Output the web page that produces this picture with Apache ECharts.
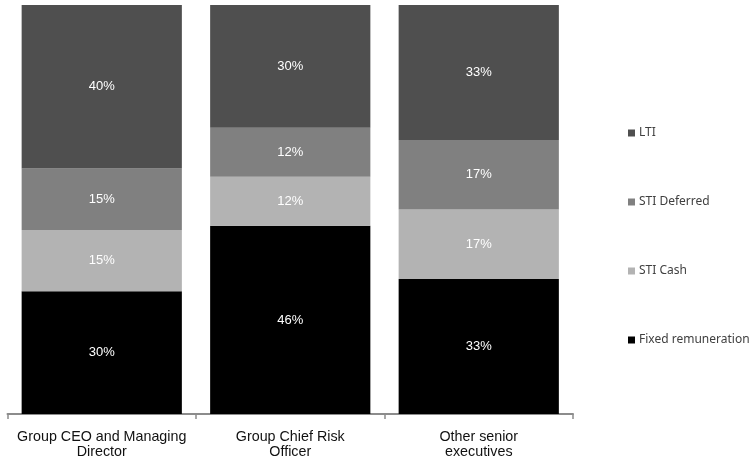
<!DOCTYPE html>
<html><head><meta charset="utf-8">
<script src="https://cdn.jsdelivr.net/npm/echarts@6/dist/echarts.min.js"></script>
<style>html,body{margin:0;padding:0;background:#fff}#c{width:749px;height:461px}</style>
</head><body><div id="c"></div>
<script>
const categories = ["Group CEO and Managing\nDirector", "Group Chief Risk\nOfficer", "Other senior\nexecutives"];
const fixedRem = [30, 46, 33];
const stiCash = [15, 12, 17];
const stiDeferred = [15, 12, 17];
const lti = [40, 30, 33];
const seriesNames = ["Fixed remuneration", "STI Cash", "STI Deferred", "LTI"];
const colors = ["#000000", "#b3b3b3", "#808080", "#4f4f4f"];
const legendOrder = ["LTI", "STI Deferred", "STI Cash", "Fixed remuneration"];

const font = "'Liberation Sans', Arial, sans-serif";
const values = [fixedRem, stiCash, stiDeferred, lti];
const chart = echarts.init(document.getElementById('c'));
chart.setOption({
  animation: false,
  grid: { left: 7.5, right: 176, top: 5, bottom: 47, containLabel: false },
  legend: {
    orient: 'vertical', left: 623, top: 122, itemWidth: 7, itemHeight: 7, itemGap: 57,
    icon: 'rect', data: legendOrder,
    textStyle: { fontFamily: "'Noto Sans', sans-serif", fontSize: 12, color: '#404040', padding: [0,0,0,-1] }
  },
  xAxis: {
    type: 'category', data: categories,
    axisLine: { lineStyle: { color: '#8c8c8c', width: 2 } },
    axisTick: { show: true, length: 5, lineStyle: { color: '#8c8c8c', width: 1.5 } },
    axisLabel: { interval: 0, margin: 16, fontFamily: font, fontSize: 14.3, lineHeight: 15, color: '#111' }
  },
  yAxis: { type: 'value', min: 0, max: 100, show: false, splitLine: { show: false } },
  series: seriesNames.map((n, i) => ({
    name: n, type: 'bar', stack: 'a', data: values[i], barCategoryGap: '15%',
    itemStyle: { color: colors[i] },
    label: { show: true, position: 'inside', formatter: '{c}%', color: '#fff', fontFamily: font, fontSize: 13 }
  }))
});
</script></body></html>
